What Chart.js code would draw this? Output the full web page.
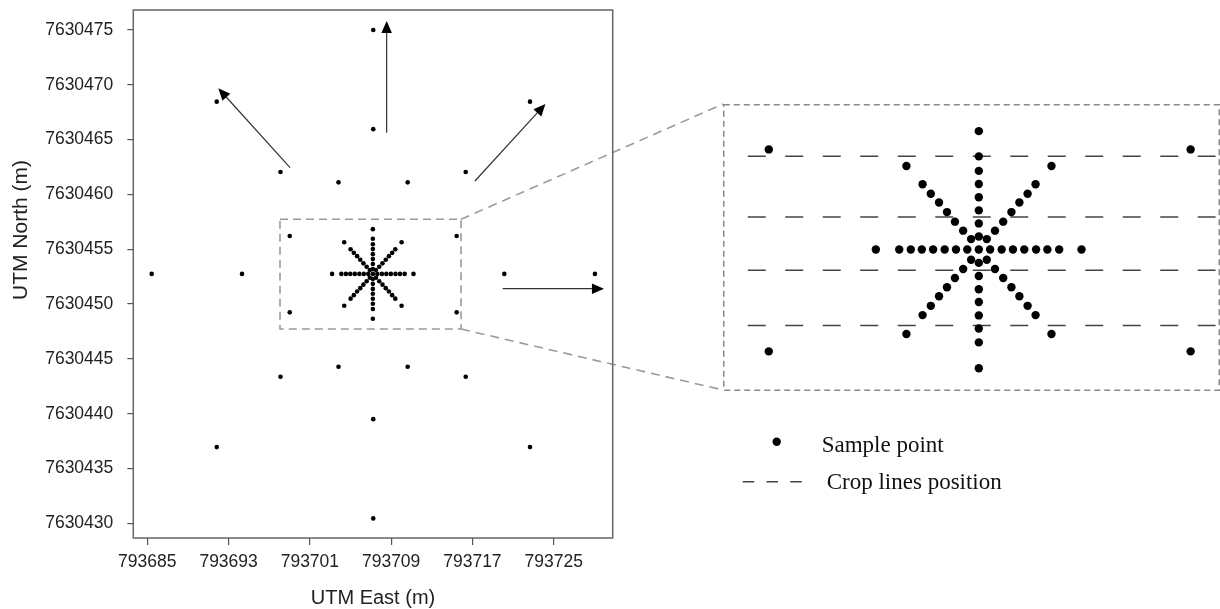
<!DOCTYPE html>
<html>
<head>
<meta charset="utf-8">
<script src="https://cdn.jsdelivr.net/npm/chart.js@4.4.0/dist/chart.umd.min.js"></script>
<style>
  body { margin: 0; background: #fff; }
  #wrap { position: relative; width: 1220px; height: 609px; }
  #main { position: absolute; left: 0; top: 0; }
  #inset { position: absolute; left: 723px; top: 104px; }
</style>
</head>
<body>
<div id="wrap">
  <canvas id="main" width="1220" height="609"></canvas>
  <canvas id="inset" width="497" height="287"></canvas>
</div>
<script>
// tick labels
const xTicks = [793685, 793693, 793701, 793709, 793717, 793725];
const yTicks = [7630430, 7630435, 7630440, 7630445, 7630450, 7630455, 7630460, 7630465, 7630470, 7630475];

// sample points [east, north]
const centre = [[793707.20, 7630452.75]];
const armWestEast = [
  [793703.19, 7630452.75], [793704.10, 7630452.75], [793704.55, 7630452.75], [793704.98, 7630452.75],
  [793705.42, 7630452.75], [793705.87, 7630452.75], [793706.31, 7630452.75], [793706.75, 7630452.75],
  [793707.64, 7630452.75], [793708.09, 7630452.75], [793708.53, 7630452.75], [793708.97, 7630452.75],
  [793709.43, 7630452.75], [793709.87, 7630452.75], [793710.33, 7630452.75], [793711.20, 7630452.75]
];
const armSouthNorth = [
  [793707.20, 7630448.66], [793707.20, 7630449.55], [793707.20, 7630450.03], [793707.20, 7630450.48],
  [793707.20, 7630450.94], [793707.20, 7630451.38], [793707.20, 7630451.84], [793707.20, 7630452.29],
  [793707.20, 7630453.20], [793707.20, 7630453.65], [793707.20, 7630454.10], [793707.20, 7630454.55],
  [793707.20, 7630455.01], [793707.20, 7630455.46], [793707.20, 7630455.96], [793707.20, 7630456.83]
];
const armNWSE = [
  [793706.90, 7630453.11], [793706.59, 7630453.40], [793706.27, 7630453.71], [793705.96, 7630454.04],
  [793705.65, 7630454.37], [793705.33, 7630454.67], [793705.01, 7630455.00], [793704.38, 7630455.63],
  [793707.51, 7630452.40], [793707.83, 7630452.08], [793708.15, 7630451.77], [793708.47, 7630451.45],
  [793708.78, 7630451.14], [793709.10, 7630450.81], [793709.41, 7630450.49], [793710.03, 7630449.84]
];
const armNESW = [
  [793707.51, 7630453.11], [793707.83, 7630453.40], [793708.15, 7630453.71], [793708.47, 7630454.04],
  [793708.78, 7630454.37], [793709.10, 7630454.67], [793709.41, 7630455.00], [793710.03, 7630455.63],
  [793706.90, 7630452.40], [793706.59, 7630452.08], [793706.27, 7630451.77], [793705.96, 7630451.45],
  [793705.65, 7630451.14], [793705.33, 7630450.81], [793705.01, 7630450.49], [793704.38, 7630449.84]
];
const outerPoints = [
  [793707.24, 7630475.00], [793707.24, 7630465.95], [793707.24, 7630439.50], [793707.24, 7630430.45],
  [793685.43, 7630452.75], [793694.32, 7630452.75], [793720.14, 7630452.75], [793729.06, 7630452.75],
  [793698.11, 7630462.04], [793703.82, 7630461.10], [793710.63, 7630461.10], [793716.34, 7630462.04],
  [793698.11, 7630443.37], [793703.82, 7630444.28], [793710.63, 7630444.28], [793716.34, 7630443.37],
  [793699.02, 7630456.20], [793715.45, 7630456.20], [793699.02, 7630449.24], [793715.45, 7630449.24],
  [793691.83, 7630468.46], [793722.67, 7630468.46], [793691.83, 7630436.95], [793722.67, 7630436.95]
];

// crop lines (north) shown in the zoomed panel
const cropLineNorth = [7630455.96, 7630453.87, 7630452.04, 7630450.13];
const cropLineEastStart = 793698.2;

// walking directions [east1, north1, east2, north2]
const arrows = [
  [793699.05, 7630462.44, 793691.99, 7630469.68],
  [793708.56, 7630465.63, 793708.56, 7630475.82],
  [793717.25, 7630461.22, 793724.19, 7630468.25],
  [793719.98, 7630451.40, 793729.95, 7630451.40]
];

const mainRange = { xMin: 793683.62, xMax: 793730.81, yMin: 7630428.66, yMax: 7630476.82 };
const insetRange = { xMin: 793697.40, xMax: 793716.43, yMin: 7630448.02, yMax: 7630457.62 };
const zoomBox = { x1: 793698.06, x2: 793715.88, y1: 7630447.72, y2: 7630457.73 };
const INSET = { left: 723, top: 104, width: 497, height: 287 };

const SANS = "'Liberation Sans', Arial, sans-serif";
const SERIF = "'Liberation Serif', 'Times New Roman', serif";

const samplePoints = [].concat(centre, armWestEast, armSouthNorth, armNWSE, armNESW, outerPoints)
  .map(p => ({ x: p[0], y: p[1] }));

function drawArrow(ctx, x1, y1, x2, y2) {
  const a = Math.atan2(y2 - y1, x2 - x1);
  const len = 12, half = 5.3;
  const c = Math.cos(a), s = Math.sin(a);
  ctx.beginPath();
  ctx.moveTo(x1, y1);
  ctx.lineTo(x2 - c * len * 0.7, y2 - s * len * 0.7);
  ctx.stroke();
  ctx.beginPath();
  ctx.moveTo(x2, y2);
  ctx.lineTo(x2 - len * c + half * s, y2 - len * s - half * c);
  ctx.lineTo(x2 - len * c - half * s, y2 - len * s + half * c);
  ctx.closePath();
  ctx.fill();
}

const mainDecor = {
  id: "mainDecor",
  beforeDatasetsDraw(chart) {
    const ctx = chart.ctx, xs = chart.scales.x, ys = chart.scales.y;
    const bx1 = xs.getPixelForValue(zoomBox.x1), bx2 = xs.getPixelForValue(zoomBox.x2);
    const by1 = ys.getPixelForValue(zoomBox.y2), by2 = ys.getPixelForValue(zoomBox.y1);
    ctx.save();
    ctx.strokeStyle = "#9a9a9a";
    ctx.lineWidth = 1.6;
    ctx.setLineDash([8, 5]);
    ctx.strokeRect(bx1, by1, bx2 - bx1, by2 - by1);
    ctx.setLineDash([9, 6]);
    ctx.beginPath();
    ctx.moveTo(bx2, by1);
    ctx.lineTo(INSET.left, INSET.top);
    ctx.moveTo(bx2, by2);
    ctx.lineTo(INSET.left, INSET.top + INSET.height - 1);
    ctx.stroke();
    ctx.restore();
  },
  afterDatasetsDraw(chart) {
    const ctx = chart.ctx, xs = chart.scales.x, ys = chart.scales.y, a = chart.chartArea;
    ctx.save();
    // plot frame
    ctx.strokeStyle = "#666";
    ctx.lineWidth = 1.5;
    ctx.strokeRect(a.left, a.top, a.right - a.left, a.bottom - a.top);
    // arrows
    ctx.strokeStyle = "#333";
    ctx.fillStyle = "#000";
    ctx.lineWidth = 1.2;
    arrows.forEach(r => {
      drawArrow(ctx, xs.getPixelForValue(r[0]), ys.getPixelForValue(r[1]),
        xs.getPixelForValue(r[2]), ys.getPixelForValue(r[3]));
    });
    // axis titles
    ctx.fillStyle = "#222";
    ctx.font = "20px " + SANS;
    ctx.textAlign = "center";
    ctx.textBaseline = "alphabetic";
    ctx.fillText("UTM East (m)", (a.left + a.right) / 2, 604);
    ctx.save();
    ctx.translate(27, 230);
    ctx.rotate(-Math.PI / 2);
    ctx.font = "21px " + SANS;
    ctx.fillText("UTM North (m)", 0, 0);
    ctx.restore();
    // legend
    ctx.fillStyle = "#000";
    ctx.beginPath();
    ctx.arc(776.7, 441.7, 4.2, 0, Math.PI * 2);
    ctx.fill();
    ctx.strokeStyle = "#444";
    ctx.lineWidth = 1.5;
    ctx.setLineDash([11.5, 12.3]);
    ctx.beginPath();
    ctx.moveTo(742.7, 481.7);
    ctx.lineTo(803, 481.7);
    ctx.stroke();
    ctx.setLineDash([]);
    ctx.fillStyle = "#111";
    ctx.font = "23px " + SERIF;
    ctx.textAlign = "left";
    ctx.fillText("Sample point", 821.7, 452);
    ctx.fillText("Crop lines position", 826.7, 489);
    ctx.restore();
  }
};

new Chart(document.getElementById("main").getContext("2d"), {
  type: "scatter",
  data: {
    datasets: [{
      label: "Sample point",
      data: samplePoints,
      pointRadius: 2.3,
      pointBackgroundColor: "#000",
      pointBorderWidth: 0
    }]
  },
  options: {
    responsive: false,
    animation: false,
    layout: { padding: { top: 10, right: 1220 - 612.7, left: 0, bottom: 0 } },
    plugins: { legend: { display: false }, tooltip: { enabled: false } },
    scales: {
      x: {
        type: "linear",
        min: mainRange.xMin,
        max: mainRange.xMax,
        afterBuildTicks: axis => { axis.ticks = xTicks.map(v => ({ value: v })); },
        afterFit: axis => { axis.height = 71; axis.paddingLeft = 0; axis.paddingRight = 0; },
        grid: { drawOnChartArea: false, tickLength: 7, color: "#555", lineWidth: 1.2 },
        border: { display: false },
        ticks: { font: { family: SANS, size: 17.5 }, color: "#222", padding: 7, maxRotation: 0, autoSkip: false, callback: v => String(v) }
      },
      y: {
        type: "linear",
        min: mainRange.yMin,
        max: mainRange.yMax,
        afterBuildTicks: axis => { axis.ticks = yTicks.map(v => ({ value: v })); },
        afterFit: axis => { axis.width = 133.3; axis.paddingTop = 0; axis.paddingBottom = 0; },
        grid: { drawOnChartArea: false, tickLength: 6, color: "#555", lineWidth: 1.2 },
        border: { display: false },
        ticks: { font: { family: SANS, size: 17.5 }, color: "#222", padding: 14, autoSkip: false, callback: v => String(v) }
      }
    }
  },
  plugins: [mainDecor]
});

const insetFrame = {
  id: "insetFrame",
  afterDatasetsDraw(chart) {
    const ctx = chart.ctx;
    ctx.save();
    ctx.strokeStyle = "#8a8a8a";
    ctx.lineWidth = 1.5;
    ctx.setLineDash([6, 4]);
    ctx.strokeRect(0.75, 0.75, INSET.width - 1.5, INSET.height - 1.5);
    ctx.restore();
  }
};

const cropDatasets = cropLineNorth.map(n => ({
  label: "Crop lines position",
  data: [{ x: cropLineEastStart, y: n }, { x: insetRange.xMax, y: n }],
  showLine: true,
  borderColor: "#444",
  borderWidth: 1.5,
  borderDash: [18, 19.5],
  pointRadius: 0,
  order: 2
}));

new Chart(document.getElementById("inset").getContext("2d"), {
  type: "scatter",
  data: {
    datasets: [{
      label: "Sample point",
      data: samplePoints,
      pointRadius: 4.2,
      pointBackgroundColor: "#000",
      pointBorderWidth: 0,
      order: 1
    }].concat(cropDatasets)
  },
  options: {
    responsive: false,
    animation: false,
    layout: { padding: 0 },
    plugins: { legend: { display: false }, tooltip: { enabled: false } },
    scales: {
      x: { type: "linear", display: false, min: insetRange.xMin, max: insetRange.xMax },
      y: { type: "linear", display: false, min: insetRange.yMin, max: insetRange.yMax }
    }
  },
  plugins: [insetFrame]
});
</script>
</body>
</html>
